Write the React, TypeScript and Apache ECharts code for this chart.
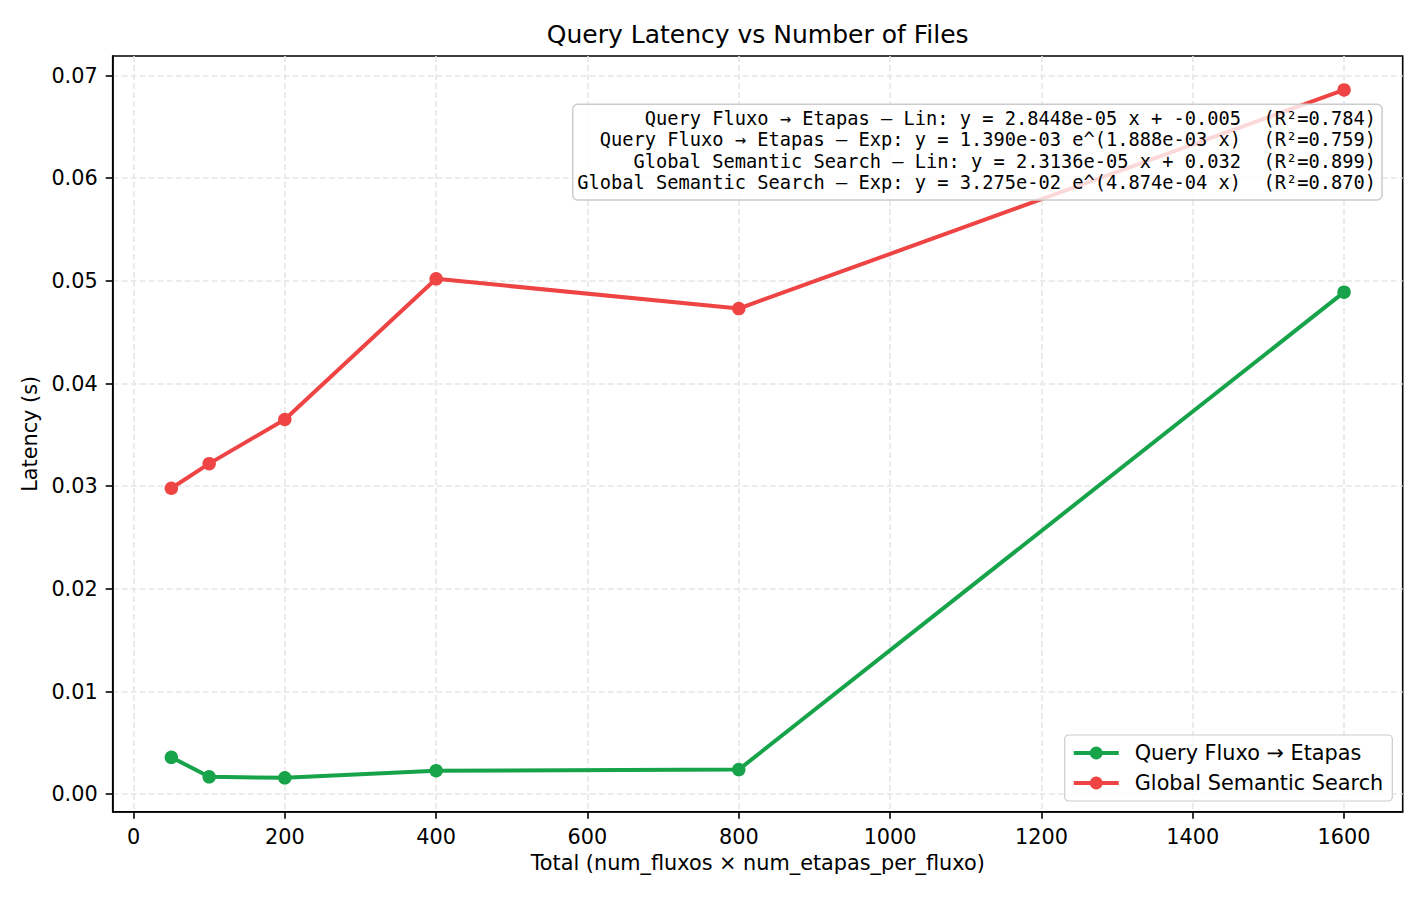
import React, { useEffect, useRef } from "react";
import * as echarts from "echarts";

const xValues = [50, 100, 200, 400, 800, 1600];
const queryFluxoLatency = [0.0036, 0.0017, 0.0016, 0.0023, 0.0024, 0.0489];
const globalSearchLatency = [0.0298, 0.0322, 0.0365, 0.0502, 0.0473, 0.0686];
const xTicks = [0, 200, 400, 600, 800, 1000, 1200, 1400, 1600];
const yTicks = [0, 0.01, 0.02, 0.03, 0.04, 0.05, 0.06, 0.07];
const seriesNames = ["Query Fluxo → Etapas", "Global Semantic Search"];
const fitLines = [
  "Query Fluxo → Etapas — Lin: y = 2.8448e-05 x + -0.005  (R²=0.784)",
  "Query Fluxo → Etapas — Exp: y = 1.390e-03 e^(1.888e-03 x)  (R²=0.759)",
  "Global Semantic Search — Lin: y = 2.3136e-05 x + 0.032  (R²=0.899)",
  "Global Semantic Search — Exp: y = 3.275e-02 e^(4.874e-04 x)  (R²=0.870)",
];

const FONT = "DejaVu Sans";
const GRID_LEFT = 112.7;
const GRID_RIGHT = 22.3;
const GRID_TOP = 56;
const GRID_BOTTOM = 88.3;

export default function App() {
  const ref = useRef<HTMLDivElement>(null);

  useEffect(() => {
    document.body.style.margin = "0";
    const chart = echarts.init(ref.current!, null, { renderer: "svg" });
    const axisCommon = {
      axisLine: { show: true, onZero: false, lineStyle: { color: "#000", width: 1.6 } },
      splitLine: {
        show: true,
        lineStyle: { color: "#e6e6e6", width: 1.6, type: [6, 3] },
      },
      nameLocation: "middle" as const,
      nameTextStyle: { fontSize: 20.8, color: "#000", fontFamily: FONT },
    };
    chart.setOption({
      animation: false,
      backgroundColor: "#fff",
      title: {
        text: "Query Latency vs Number of Files",
        left: GRID_LEFT + (1425 - GRID_LEFT - GRID_RIGHT) / 2,
        textAlign: "center",
        top: 22,
        padding: 0,
        textStyle: { fontSize: 25, fontWeight: "normal", color: "#000", fontFamily: FONT },
      },
      grid: {
        left: GRID_LEFT,
        right: GRID_RIGHT,
        top: GRID_TOP,
        bottom: GRID_BOTTOM,
        show: true,
        borderColor: "#000",
        borderWidth: 1.6,
        containLabel: false,
      },
      xAxis: {
        type: "value",
        min: -27.5,
        max: 1677.5,
        ...axisCommon,
        name: "Total (num_fluxos × num_etapas_per_fluxo)",
        nameGap: 40,
        axisTick: { show: true, length: 7, customValues: xTicks, lineStyle: { color: "#000", width: 1.6 } },
        axisLabel: {
          customValues: xTicks,
          fontSize: 20.8,
          color: "#000",
          fontFamily: FONT,
          margin: 15,
          formatter: (v: number) => String(Math.round(v)),
        },
      },
      yAxis: {
        type: "value",
        min: -0.0017,
        max: 0.0719,
        ...axisCommon,
        name: "Latency (s)",
        nameGap: 69,
        axisTick: { show: true, length: 7, customValues: yTicks, lineStyle: { color: "#000", width: 1.6 } },
        axisLabel: {
          customValues: yTicks,
          fontSize: 20.8,
          color: "#000",
          fontFamily: FONT,
          margin: 15,
          formatter: (v: number) => v.toFixed(2),
        },
      },
      legend: {
        orient: "vertical",
        right: 32.7,
        bottom: 99,
        data: seriesNames,
        itemWidth: 45,
        itemHeight: 16,
        itemGap: 6,
        padding: [6, 9, 6, 7],
        backgroundColor: "rgba(255,255,255,0.8)",
        borderColor: "#cccccc",
        borderWidth: 1.2,
        borderRadius: 4,
        lineStyle: { width: 4 },
        textStyle: {
          fontSize: 20.8,
          lineHeight: 24,
          color: "#000",
          fontFamily: FONT,
          padding: [0, 0, 0, 11],
        },
      },
      series: [
        {
          name: seriesNames[0],
          type: "line",
          data: xValues.map((x, i) => [x, queryFluxoLatency[i]]),
          symbol: "circle",
          symbolSize: 13.5,
          color: "#16a34a",
          lineStyle: { width: 4, color: "#16a34a" },
          itemStyle: { color: "#16a34a" },
          emphasis: { disabled: true },
        },
        {
          name: seriesNames[1],
          type: "line",
          data: xValues.map((x, i) => [x, globalSearchLatency[i]]),
          symbol: "circle",
          symbolSize: 13.5,
          color: "#ef4444",
          lineStyle: { width: 4, color: "#ef4444" },
          itemStyle: { color: "#ef4444" },
          emphasis: { disabled: true },
        },
      ],
      graphic: [
        {
          type: "group",
          z: 100,
          children: [
            {
              type: "rect",
              z: 100,
              shape: { x: 572.7, y: 104.3, width: 809.3, height: 95.7, r: 5 },
              style: { fill: "rgba(255,255,255,0.8)", stroke: "#cccccc", lineWidth: 1.5 },
            },
            {
              type: "text",
              z: 101,
              x: 1376,
              y: 107.5,
              style: {
                text: fitLines.join("\n"),
                font: '18.7px "DejaVu Sans Mono"',
                fill: "#000",
                align: "right",
                verticalAlign: "top",
                lineHeight: 21.5,
              },
            },
          ],
        },
      ],
    });
    return () => chart.dispose();
  }, []);

  return (
    <div
      ref={ref}
      style={{ position: "absolute", left: 0, top: 0, width: 1425, height: 900 }}
    />
  );
}
